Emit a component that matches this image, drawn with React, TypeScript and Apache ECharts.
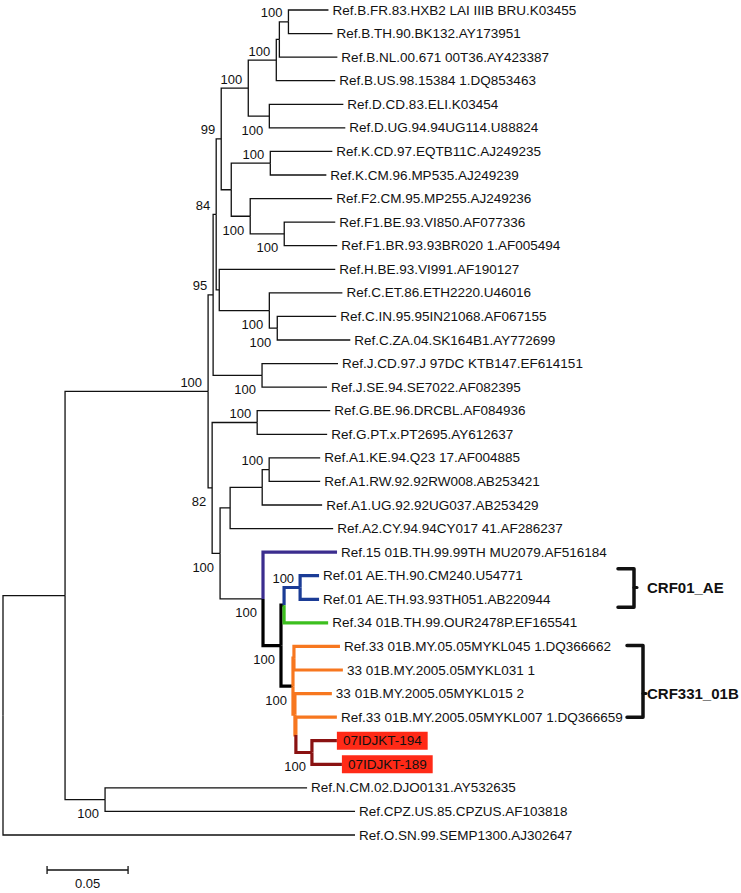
import React, { useEffect, useRef } from "react";
import * as echarts from "echarts";

// ---------------- DATA ----------------
const leafNames = [
  "Ref.B.FR.83.HXB2 LAI IIIB BRU.K03455",
  "Ref.B.TH.90.BK132.AY173951",
  "Ref.B.NL.00.671 00T36.AY423387",
  "Ref.B.US.98.15384 1.DQ853463",
  "Ref.D.CD.83.ELI.K03454",
  "Ref.D.UG.94.94UG114.U88824",
  "Ref.K.CD.97.EQTB11C.AJ249235",
  "Ref.K.CM.96.MP535.AJ249239",
  "Ref.F2.CM.95.MP255.AJ249236",
  "Ref.F1.BE.93.VI850.AF077336",
  "Ref.F1.BR.93.93BR020 1.AF005494",
  "Ref.H.BE.93.VI991.AF190127",
  "Ref.C.ET.86.ETH2220.U46016",
  "Ref.C.IN.95.95IN21068.AF067155",
  "Ref.C.ZA.04.SK164B1.AY772699",
  "Ref.J.CD.97.J 97DC KTB147.EF614151",
  "Ref.J.SE.94.SE7022.AF082395",
  "Ref.G.BE.96.DRCBL.AF084936",
  "Ref.G.PT.x.PT2695.AY612637",
  "Ref.A1.KE.94.Q23 17.AF004885",
  "Ref.A1.RW.92.92RW008.AB253421",
  "Ref.A1.UG.92.92UG037.AB253429",
  "Ref.A2.CY.94.94CY017 41.AF286237",
  "Ref.15 01B.TH.99.99TH MU2079.AF516184",
  "Ref.01 AE.TH.90.CM240.U54771",
  "Ref.01 AE.TH.93.93TH051.AB220944",
  "Ref.34 01B.TH.99.OUR2478P.EF165541",
  "Ref.33 01B.MY.05.05MYKL045 1.DQ366662",
  "33 01B.MY.2005.05MYKL031 1",
  "33 01B.MY.2005.05MYKL015 2",
  "Ref.33 01B.MY.2005.05MYKL007 1.DQ366659",
  "07IDJKT-194",
  "07IDJKT-189",
  "Ref.N.CM.02.DJO0131.AY532635",
  "Ref.CPZ.US.85.CPZUS.AF103818",
  "Ref.O.SN.99.SEMP1300.AJ302647",
];

// parent internal node of each leaf
const leafParent = [
  "B2", "B2", "B3", "B", "D", "D", "K", "K", "F", "F1", "F1", "HC", "C", "C2", "C2",
  "J", "J", "G", "G", "A1b", "A1b", "A1", "A", "CRF", "AE", "AE", "AEG",
  "R33a", "R33a", "R33b", "R33c", "JKT", "JKT", "NCPZ", "NCPZ", "root",
];
// branch length of each leaf (substitutions / site)
const leafBranch = [
  0.0247, 0.0272, 0.0358, 0.0364, 0.0457, 0.0469, 0.0383, 0.0346, 0.0506, 0.0315,
  0.0327, 0.0716, 0.0451, 0.0364, 0.0451, 0.0469, 0.0401, 0.0451, 0.0432, 0.0315,
  0.0315, 0.037, 0.0636, 0.0457, 0.0117, 0.0117, 0.0272, 0.0284, 0.0302, 0.0228,
  0.0253, 0.0154, 0.0185, 0.1247, 0.1543, 0.2173,
];

// internal nodes (parents listed before children)
const nodeIds = [
  "root", "MN", "M", "NCPZ", "n95", "n84", "n99", "BD", "B", "B3", "B2", "D", "KF", "K",
  "F", "F1", "HC", "C", "C2", "J", "n82", "G", "ACRF", "A", "A1", "A1b", "CRF", "CRFb",
  "AEG", "AE", "R33", "R33a", "R33b", "R33c", "JKT",
];
const nodeParent = [
  null, "root", "MN", "MN", "M", "n95", "n84", "n99", "BD", "B", "B3", "BD", "n99", "KF",
  "KF", "F", "n84", "HC", "C", "n95", "M", "n82", "n82", "ACRF", "A", "A1", "ACRF", "CRF",
  "CRFb", "AEG", "CRFb", "R33", "R33", "R33b", "R33c",
];
const nodeBranch = [
  0, 0.0383, 0.0883, 0.0247, 0.0031, 0.0019, 0.0031, 0.0167, 0.0173, 0.0019, 0.0056,
  0.013, 0.0062, 0.0241, 0.0117, 0.021, 0.0019, 0.0309, 0.0049, 0.0302, 0.0025, 0.0278,
  0.0049, 0.0062, 0.0198, 0.0043, 0.0265, 0.0111, 0.0019, 0.0099, 0.0074, 0.0006,
  0.0012, 0.0006, 0.0099,
];
// bootstrap support of internal nodes
const nodeSupport = [
  null, null, 100, 100, 95, 84, 99, 100, 100, null, 100, 100, null, 100, 100, 100, null,
  100, 100, 100, 82, 100, 100, null, null, 100, 100, 100, null, 100, 100, null, null,
  null, 100,
];

// colour group membership of branches
const nodeGroup: Record<string, string> = {
  CRFb: "backbone", AEG: "backbone", R33: "backbone", AE: "crf01",
  R33a: "crf33", R33b: "crf33", R33c: "crf33", JKT: "jkt",
};
const leafGroup = [
  "", "", "", "", "", "", "", "", "", "", "", "", "", "", "", "", "", "", "", "", "", "", "",
  "crf15", "crf01", "crf01", "crf34", "crf33", "crf33", "crf33", "crf33", "jkt", "jkt",
  "", "", "",
];
const highlightedLeaves = [31, 32];

const cladeNames = ["CRF01_AE", "CRF331_01B"];
const cladeFirstLeaf = [24, 27];
const cladeLastLeaf = [25, 30];

const scaleBarValue = 0.05;
const scaleBarLabel = "0.05";

// ---------------- STYLES ----------------
const groupStyle: Record<string, { color: string; width: number }> = {
  "": { color: "#111111", width: 1.3 },
  backbone: { color: "#000000", width: 3.2 },
  crf15: { color: "#3B2D8E", width: 3.2 },
  crf01: { color: "#1B3C96", width: 3.2 },
  crf34: { color: "#3CBF1E", width: 3.2 },
  crf33: { color: "#F7771F", width: 3.2 },
  jkt: { color: "#8A1212", width: 3.2 },
};
const FONT = "'Liberation Sans', Arial, Helvetica, sans-serif";
const highlightBg = "#FF2A17";

// ---------------- TREE LAYOUT (from data) ----------------
const xOf: Record<string, number> = {};
nodeIds.forEach((id, i) => {
  const p = nodeParent[i];
  xOf[id] = p ? xOf[p] + nodeBranch[i] : 0;
});
const childYs: Record<string, number[]> = {};
leafParent.forEach((p, i) => {
  (childYs[p] = childYs[p] || []).push(i);
});
const yOf: Record<string, number> = {};
for (let i = nodeIds.length - 1; i >= 0; i--) {
  const id = nodeIds[i];
  const ys = childYs[id];
  yOf[id] = (Math.min(...ys) + Math.max(...ys)) / 2;
  const p = nodeParent[i];
  if (p) (childYs[p] = childYs[p] || []).push(yOf[id]);
}

type Branch = { px: number; py: number; cx: number; cy: number; group: string };
const branches: Branch[] = [];
nodeIds.forEach((id, i) => {
  const p = nodeParent[i];
  if (!p) return;
  branches.push({ px: xOf[p], py: yOf[p], cx: xOf[id], cy: yOf[id], group: nodeGroup[id] || "" });
});
leafParent.forEach((p, i) => {
  branches.push({ px: xOf[p], py: yOf[p], cx: xOf[p] + leafBranch[i], cy: i, group: leafGroup[i] });
});
branches.sort((a, b) => groupStyle[a.group].width - groupStyle[b.group].width);

const leafTips = leafParent.map((p, i) => [xOf[p] + leafBranch[i], i]);

const supportData: number[][] = [];
nodeIds.forEach((id, i) => {
  const s = nodeSupport[i];
  const p = nodeParent[i];
  if (s == null || !p) return;
  supportData.push([xOf[id], yOf[id], s, yOf[id] < yOf[p] ? 1 : 0]);
});

// layout for clade brackets (pixels)
const bracketLayout = [
  { x0: 618, x1: 634, padTop: -7, padBottom: 8, textX: 647, textShift: 0 },
  { x0: 627, x1: 643, padTop: -1, padBottom: 0, textX: 647, textShift: 0.5 },
];

const option: any = {
  animation: false,
  backgroundColor: "#ffffff",
  grid: { left: 3, top: 10, width: 405, height: 825 },
  xAxis: { type: "value", min: 0, max: 0.25, show: false },
  yAxis: { type: "value", min: 0, max: 35, inverse: true, show: false },
  series: [
    {
      type: "custom",
      clip: false,
      silent: true,
      data: branches.map((b) => [b.px, b.py, b.cx, b.cy]),
      renderItem: (params: any, api: any) => {
        const b = branches[params.dataIndex];
        const st = groupStyle[b.group];
        const p0 = api.coord([b.px, b.py]);
        const p1 = api.coord([b.px, b.cy]);
        const p2 = api.coord([b.cx, b.cy]);
        return {
          type: "polyline",
          shape: { points: [p0, p1, p2] },
          style: { stroke: st.color, lineWidth: st.width, fill: null, lineJoin: "miter" },
        };
      },
    },
    {
      type: "custom",
      clip: false,
      silent: true,
      data: leafTips,
      renderItem: (params: any, api: any) => {
        const i = params.dataIndex;
        const pt = api.coord([leafTips[i][0], leafTips[i][1]]);
        const hl = highlightedLeaves.indexOf(i) >= 0;
        return {
          type: "text",
          x: pt[0] + (hl ? 0 : 4),
          y: pt[1],
          style: {
            text: leafNames[i],
            fill: "#111111",
            fontSize: 13.5,
            fontFamily: FONT,
            align: "left",
            textAlign: "left",
            verticalAlign: "middle",
            textVerticalAlign: "middle",
            backgroundColor: hl ? highlightBg : undefined,
            padding: hl ? [2, 6, 2, 6] : 0,
          },
        };
      },
    },
    {
      type: "custom",
      clip: false,
      silent: true,
      data: supportData,
      renderItem: (params: any, api: any) => {
        const d = supportData[params.dataIndex];
        const pt = api.coord([d[0], d[1]]);
        return {
          type: "text",
          x: pt[0] - 6,
          y: pt[1] + (d[3] ? -9 : 14),
          style: {
            text: String(d[2]),
            fill: "#111111",
            fontSize: 13,
            fontFamily: FONT,
            align: "right",
            textAlign: "right",
            verticalAlign: "middle",
            textVerticalAlign: "middle",
          },
        };
      },
    },
    {
      type: "custom",
      clip: false,
      silent: true,
      data: cladeNames.map((_, i) => [cladeFirstLeaf[i], cladeLastLeaf[i]]),
      renderItem: (params: any, api: any) => {
        const i = params.dataIndex;
        const L = bracketLayout[i];
        const y0 = api.coord([0, cladeFirstLeaf[i]])[1] + L.padTop;
        const y1 = api.coord([0, cladeLastLeaf[i]])[1] + L.padBottom;
        const ty = api.coord([0, (cladeFirstLeaf[i] + cladeLastLeaf[i]) / 2 + L.textShift])[1];
        return {
          type: "group",
          children: [
            {
              type: "polyline",
              shape: { points: [[L.x0, y0], [L.x1, y0], [L.x1, y1], [L.x0, y1]] },
              style: { stroke: "#111", lineWidth: 3.5, fill: null, lineJoin: "round", lineCap: "round" },
            },
            {
              type: "line",
              shape: { x1: L.x1, y1: ty, x2: L.x1 + 3, y2: ty },
              style: { stroke: "#111", lineWidth: 3, lineCap: "round" },
            },
            {
              type: "text",
              x: L.textX,
              y: ty,
              style: {
                text: cladeNames[i],
                fill: "#111111",
                fontSize: 15,
                fontWeight: "bold",
                fontFamily: FONT,
                align: "left",
                textAlign: "left",
                verticalAlign: "middle",
                textVerticalAlign: "middle",
              },
            },
          ],
        };
      },
    },
    {
      type: "custom",
      clip: false,
      silent: true,
      data: [[0.0272, 35, scaleBarValue]],
      renderItem: (params: any, api: any) => {
        const a = api.coord([0.0272, 35]);
        const b = api.coord([0.0272 + scaleBarValue, 35]);
        const y = a[1] + 35;
        return {
          type: "group",
          children: [
            { type: "line", shape: { x1: a[0], y1: y, x2: b[0], y2: y }, style: { stroke: "#111", lineWidth: 1.3 } },
            { type: "line", shape: { x1: a[0], y1: y - 4, x2: a[0], y2: y + 4 }, style: { stroke: "#111", lineWidth: 1.3 } },
            { type: "line", shape: { x1: b[0], y1: y - 4, x2: b[0], y2: y + 4 }, style: { stroke: "#111", lineWidth: 1.3 } },
            {
              type: "text",
              x: (a[0] + b[0]) / 2,
              y: y + 13,
              style: {
                text: scaleBarLabel,
                fill: "#111",
                fontSize: 13,
                fontFamily: FONT,
                align: "center",
                textAlign: "center",
                verticalAlign: "middle",
                textVerticalAlign: "middle",
              },
            },
          ],
        };
      },
    },
  ],
};

export default function App() {
  const ref = useRef<HTMLDivElement>(null);
  useEffect(() => {
    const chart = echarts.init(ref.current!, undefined, { renderer: "svg" });
    chart.setOption(option);
    return () => chart.dispose();
  }, []);
  return (
    <div
      ref={ref}
      style={{ position: "absolute", left: 0, top: 0, width: 741, height: 893, background: "#fff" }}
    />
  );
}
